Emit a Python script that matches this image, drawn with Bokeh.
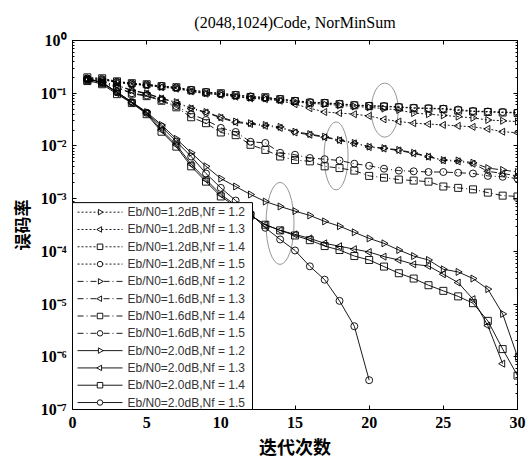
import numpy as np
from bokeh.plotting import figure
from bokeh.models import (LogAxis, LinearAxis, CustomJSTickFormatter, FixedTicker, ColumnDataSource,
                          Range1d, LinearScale, CustomLabelingPolicy)
from bokeh.core.properties import value
from bokeh.embed import file_html
from bokeh.resources import INLINE

iterations = list(range(1, 31))

# Eb/N0 = 1.2 dB
ber_12_nf12 = [0.19, 0.185, 0.162, 0.15, 0.142, 0.132, 0.125, 0.11, 0.10, 0.095, 0.088, 0.082, 0.080,
               0.074, 0.069, 0.064, 0.062, 0.059, 0.056, 0.054, 0.051, 0.048, 0.042, 0.040, 0.038,
               0.036, 0.034, 0.031, 0.030, 0.029]
ber_12_nf13 = [0.18, 0.18, 0.16, 0.148, 0.14, 0.13, 0.122, 0.108, 0.098, 0.093, 0.086, 0.08, 0.077,
               0.072, 0.062, 0.052, 0.044, 0.042, 0.040, 0.037, 0.032, 0.029, 0.027, 0.026, 0.025,
               0.024, 0.023, 0.021, 0.0186, 0.0178]
ber_12_nf14 = [0.20, 0.192, 0.168, 0.155, 0.148, 0.136, 0.130, 0.114, 0.104, 0.10, 0.092, 0.085, 0.084,
               0.077, 0.071, 0.066, 0.065, 0.062, 0.059, 0.057, 0.056, 0.054, 0.052, 0.051, 0.050,
               0.047, 0.045, 0.044, 0.043, 0.042]
ber_12_nf15 = [0.19, 0.185, 0.165, 0.152, 0.145, 0.138, 0.128, 0.116, 0.106, 0.098, 0.093, 0.087, 0.082,
               0.078, 0.072, 0.068, 0.066, 0.063, 0.060, 0.058, 0.057, 0.055, 0.053, 0.052, 0.051,
               0.049, 0.046, 0.045, 0.044, 0.043]

# Eb/N0 = 1.6 dB
ber_16_nf12 = [0.18, 0.163, 0.142, 0.114, 0.10, 0.080, 0.068, 0.052, 0.044, 0.035, 0.029, 0.027, 0.025,
               0.023, 0.0186, 0.0168, 0.015, 0.013, 0.0114, 0.0097, 0.0091, 0.0084, 0.0074, 0.0063,
               0.0054, 0.0053, 0.0048, 0.0038, 0.0035, 0.0032]
ber_16_nf13 = [0.18, 0.16, 0.14, 0.112, 0.098, 0.079, 0.066, 0.051, 0.043, 0.034, 0.028, 0.026, 0.024,
               0.022, 0.018, 0.0163, 0.0146, 0.0127, 0.0112, 0.0095, 0.0089, 0.0082, 0.0072, 0.0062,
               0.0053, 0.0051, 0.0046, 0.0033, 0.0030, 0.0027]
ber_16_nf14 = [0.17, 0.155, 0.128, 0.098, 0.088, 0.072, 0.054, 0.035, 0.027, 0.018, 0.016, 0.0105,
               0.0084, 0.0063, 0.0054, 0.0051, 0.0041, 0.0038, 0.0034, 0.0027, 0.0025, 0.0023, 0.0022,
               0.0021, 0.0017, 0.0016, 0.0015, 0.0013, 0.00114, 0.0011]
ber_16_nf15 = [0.18, 0.16, 0.13, 0.10, 0.091, 0.074, 0.057, 0.040, 0.031, 0.022, 0.0184, 0.012, 0.0114,
               0.0074, 0.0068, 0.0059, 0.0056, 0.0053, 0.0046, 0.0042, 0.0037, 0.0034, 0.0033, 0.0032,
               0.0032, 0.0031, 0.0030, 0.0027, 0.0026, 0.0024]

# Eb/N0 = 2.0 dB
ber_20_nf12 = [0.19, 0.16, 0.105, 0.068, 0.044, 0.025, 0.0136, 0.0074, 0.0041, 0.0024, 0.0017, 0.0012,
               0.00088, 0.00071, 0.00058, 0.00048, 0.00037, 0.00030, 0.00023, 0.000176, 0.000142,
               0.000106, 0.0000815, 0.0000686, 0.0000457, 0.0000407, 0.0000305, 0.0000192,
               0.0000065, 0.000001]
iter_20_nf13 = list(range(1, 30))
ber_20_nf13 = [0.185, 0.158, 0.10, 0.066, 0.042, 0.02, 0.0105, 0.0045, 0.0023, 0.0012, 0.00075,
               0.00048, 0.00032, 0.00025, 0.00021, 0.000176, 0.000142, 0.000125, 0.00011, 0.000097,
               0.0000794, 0.0000686, 0.0000569, 0.0000528, 0.0000368, 0.0000256, 0.0000124,
               0.0000039, 0.00000074]
ber_20_nf14 = [0.176, 0.148, 0.096, 0.065, 0.040, 0.0186, 0.0097, 0.0041, 0.0021, 0.0011, 0.00071,
               0.00048, 0.00032, 0.00025, 0.0002, 0.000163, 0.000126, 0.000106, 0.0000815, 0.0000686,
               0.0000514, 0.0000385, 0.0000305, 0.0000228, 0.0000178, 0.000014, 0.0000104,
               0.0000048, 0.0000014, 0.00000044]
iter_20_nf15 = list(range(1, 21))
ber_20_nf15 = [0.19, 0.16, 0.105, 0.068, 0.0425, 0.0231, 0.0121, 0.0063, 0.0030, 0.0016, 0.00092,
               0.00052, 0.00028, 0.000168, 0.000104, 0.000052, 0.000029, 0.0000115, 0.0000038,
               0.00000036]

labels = ["Eb/N0=1.2dB,Nf = 1.2", "Eb/N0=1.2dB,Nf = 1.3", "Eb/N0=1.2dB,Nf = 1.4", "Eb/N0=1.2dB,Nf = 1.5",
          "Eb/N0=1.6dB,Nf = 1.2", "Eb/N0=1.6dB,Nf = 1.3", "Eb/N0=1.6dB,Nf = 1.4", "Eb/N0=1.6dB,Nf = 1.5",
          "Eb/N0=2.0dB,Nf = 1.2", "Eb/N0=2.0dB,Nf = 1.3", "Eb/N0=2.0dB,Nf = 1.4", "Eb/N0=2.0dB,Nf = 1.5"]

title_text = "(2048,1024)Code, NorMinSum"
x_label = "迭代次数"
y_label = "误码率"
x_ticks = [0, 5, 10, 15, 20, 25, 30]

# annotation ellipses (centre iteration, centre BER)
ellipse_x = [21.05, 17.77, 13.99]
ellipse_y = [0.0478, 0.00646, 0.000339]
ellipse_w = [27, 24, 28]
ellipse_h = [54, 68, 82]

series = [
    (iterations, ber_12_nf12), (iterations, ber_12_nf13), (iterations, ber_12_nf14), (iterations, ber_12_nf15),
    (iterations, ber_16_nf12), (iterations, ber_16_nf13), (iterations, ber_16_nf14), (iterations, ber_16_nf15),
    (iterations, ber_20_nf12), (iter_20_nf13, ber_20_nf13), (iterations, ber_20_nf14), (iter_20_nf15, ber_20_nf15),
]
dashes = ["2 2"] * 4 + ["6 3 1 3"] * 4 + ["solid"] * 4
markers = [("triangle", -np.pi / 2), ("triangle", np.pi / 2), ("square", 0.0), ("circle", 0.0)] * 3

W, H = 531, 461
BL, BR, BT, BB = 72, 14, 40, 50
FW, FH = W - BL - BR, H - BT - BB

p = figure(width=W, height=H, x_range=(0, 30), y_range=(1e-7, 1), y_axis_type="log",
           output_backend="svg", toolbar_location=None,
           min_border_left=BL, min_border_right=BR, min_border_top=BT, min_border_bottom=BB)
p.title.text = title_text
p.title.align = "center"
p.title.text_font = "Liberation Serif"
p.title.text_font_size = "16px"
p.title.text_font_style = "normal"
p.title.text_color = "black"
p.title.standoff = 20

# pixel-like coordinate system of the frame (for legend box)
p.extra_x_ranges = {"px": Range1d(0, FW)}
p.extra_y_ranges = {"py": Range1d(0, FH)}
p.extra_x_scales = {"px": LinearScale()}
p.extra_y_scales = {"py": LinearScale()}

p.xgrid.grid_line_color = None
p.ygrid.grid_line_color = None
p.outline_line_color = "black"
p.outline_line_width = 1
p.background_fill_color = "white"

serif = "Liberation Serif"
xt = FixedTicker(ticks=x_ticks, minor_ticks=[])
decades = [10.0 ** e for e in range(-7, 1)]
minors = [m * 10.0 ** e for e in range(-7, 0) for m in range(2, 10)]
yt = FixedTicker(ticks=decades, minor_ticks=minors)
sup_fmt = CustomJSTickFormatter(code="""
const e = Math.round(Math.log10(tick));
const s = {'-':'\u207b','0':'\u2070','1':'\u00b9','2':'\u00b2','3':'\u00b3','4':'\u2074','5':'\u2075','6':'\u2076','7':'\u2077','8':'\u2078','9':'\u2079'};
return '10' + String(e).split('').map(c => s[c]).join('');
""")
no_labels = CustomLabelingPolicy(code="""
for (const i of indices) { indices.unset(i) }
return indices
""")

for ax in p.xaxis:
    ax.ticker = xt
for ax in p.yaxis:
    ax.ticker = yt
    ax.formatter = sup_fmt


def style_axis(ax, size="16px"):
    ax.axis_line_color = "black"
    ax.major_tick_in = 4
    ax.major_tick_out = 0
    ax.minor_tick_in = 2
    ax.minor_tick_out = 0
    ax.major_tick_line_color = "black"
    ax.minor_tick_line_color = "black"
    ax.major_label_text_font = serif
    ax.major_label_text_font_style = "bold"
    ax.major_label_text_font_size = size
    ax.major_label_text_color = "black"


style_axis(p.xaxis[0])
style_axis(p.yaxis[0])
p.xaxis[0].major_label_standoff = 7
p.yaxis[0].major_label_standoff = 6
p.xaxis.axis_label = x_label
p.yaxis.axis_label = y_label
for ax in (p.xaxis[0], p.yaxis[0]):
    ax.axis_label_text_font = "Noto Sans CJK SC"
    ax.axis_label_text_font_style = "bold"
    ax.axis_label_text_color = "black"
p.xaxis[0].axis_label_text_font_size = "18px"
p.yaxis[0].axis_label_text_font_size = "17px"
p.xaxis[0].axis_label_standoff = 2
p.yaxis[0].axis_label_standoff = 4

top_ax = LinearAxis(ticker=xt, major_label_policy=no_labels, major_label_standoff=0)
style_axis(top_ax, "0px")
p.add_layout(top_ax, "above")
right_ax = LogAxis(ticker=yt, formatter=sup_fmt, major_label_policy=no_labels, major_label_standoff=0)
style_axis(right_ax, "0px")
p.add_layout(right_ax, "right")

esrc = ColumnDataSource(dict(x=ellipse_x, y=ellipse_y, w=ellipse_w, h=ellipse_h))
p.ellipse(x="x", y="y", width="w", height="h", width_units="screen", height_units="screen",
          source=esrc, fill_color=None, line_color="#8a8a8a", line_width=0.9)

for (xs, ys), dash, (mk, ang) in zip(series, dashes, markers):
    src = ColumnDataSource(dict(x=xs, y=ys))
    p.line("x", "y", source=src, line_color="black", line_width=0.9, line_dash=dash)
    p.scatter("x", "y", source=src, marker=mk, angle=ang, size=7,
              line_color="black", line_width=0.9, fill_color=None)

# legend (drawn in frame pixel coordinates, above the axes' inner ticks)
LW, LH = 180, 208
p.quad(left=0, right=LW, bottom=0, top=LH, x_range_name="px", y_range_name="py",
       fill_color="white", line_color="black", line_width=1, level="annotation")
n = len(labels)
row_y = [7 + (n - 1 - i) * 17.4 for i in range(n)]
for i, (dash, (mk, ang)) in enumerate(zip(dashes, markers)):
    p.line([5, 50], [row_y[i], row_y[i]], x_range_name="px", y_range_name="py",
           line_color="black", line_width=0.9, line_dash=dash, level="annotation")
    p.scatter([27.5], [row_y[i]], x_range_name="px", y_range_name="py", marker=mk, angle=ang,
              size=5.5, line_color="black", line_width=0.9, fill_color="white", level="annotation")
lsrc = ColumnDataSource(dict(x=[55] * n, y=row_y, t=labels))
p.text(x="x", y="y", text="t", source=lsrc, x_range_name="px", y_range_name="py",
       text_font=value("Liberation Sans"), text_font_size="12px", text_color="#333333",
       text_align="left", text_baseline="middle", level="annotation")

open("out.html", "w").write(file_html(p, INLINE))
